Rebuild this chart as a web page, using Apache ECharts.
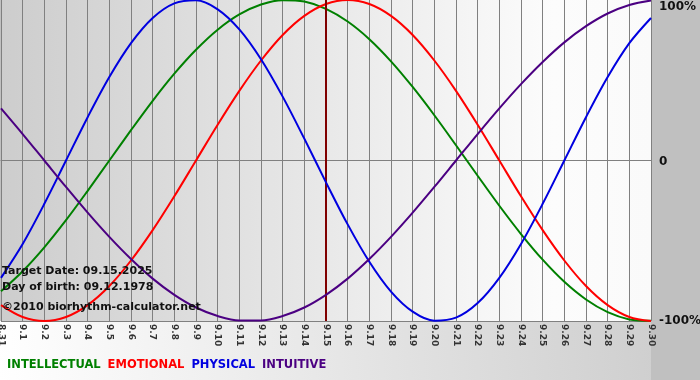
<!DOCTYPE html>
<html>
<head>
<meta charset="utf-8">
<script src="https://cdn.jsdelivr.net/npm/echarts@6/dist/echarts.min.js"></script>
<style>html,body{margin:0;padding:0;background:#c0c0c0;}#c{width:700px;height:380px;}</style>
</head>
<body>
<div id="c"></div>
<script>
const categories = ['8.31','9.1','9.2','9.3','9.4','9.5','9.6','9.7','9.8','9.9','9.10','9.11','9.12','9.13','9.14','9.15','9.16','9.17','9.18','9.19','9.20','9.21','9.22','9.23','9.24','9.25','9.26','9.27','9.28','9.29','9.30'];
const intellectual = [-81.5,-69.0,-54.1,-37.2,-18.9,0,18.9,37.2,54.1,69.0,81.5,91.0,97.2,99.9,99.0,94.5,86.6,75.6,61.8,45.8,28.2,9.5,-9.5,-28.2,-45.8,-61.8,-75.6,-86.6,-94.5,-99.0,-99.9];
const emotional = [-90.1,-97.5,-100,-97.5,-90.1,-78.2,-62.3,-43.4,-22.3,0,22.3,43.4,62.3,78.2,90.1,97.5,100,97.5,90.1,78.2,62.3,43.4,22.3,0,-22.3,-43.4,-62.3,-78.2,-90.1,-97.5,-100];
const physical = [-73.1,-52.0,-27.0,0,27.0,52.0,73.1,88.8,97.9,99.8,94.2,81.7,63.1,39.8,13.6,-13.6,-39.8,-63.1,-81.7,-94.2,-99.8,-97.9,-88.8,-73.1,-52.0,-27.0,0,27.0,52.0,73.1,88.8];
const intuitive = [32.5,16.5,0,-16.5,-32.5,-47.6,-61.4,-73.6,-83.7,-91.6,-96.9,-99.7,-99.7,-96.9,-91.6,-83.7,-73.6,-61.4,-47.6,-32.5,-16.5,0,16.5,32.5,47.6,61.4,73.6,83.7,91.6,96.9,99.7];
const yTicks = [-100, 0, 100];
const targetDay = '9.15';
const infoLines = ['Target Date: 09.15.2025', 'Day of birth: 09.12.1978', '©2010 biorhythm-calculator.net'];
const seriesNames = ['INTELLECTUAL','EMOTIONAL','PHYSICAL','INTUITIVE'];
const seriesColors = ['#008000','#ff0000','#0000e0','#4b0082'];

const chart = echarts.init(document.getElementById('c'), null, {renderer:'canvas'});
const font = 'DejaVu Sans, Verdana, sans-serif';
const datas = [intellectual, emotional, physical, intuitive];

const series = seriesNames.map((n, i) => ({
  name: n, type: 'line', data: datas[i], smooth: 0.33, symbol: 'none',
  lineStyle: {color: seriesColors[i], width: 2}, itemStyle:{color: seriesColors[i]},
  z: 3 + i,
  markLine: i === 0 ? {
    symbol: 'none', silent: true, label: {show: false},
    lineStyle: {color: '#800000', width: 2, type: 'solid'},
    data: [{xAxis: targetDay}]
  } : undefined
}));

chart.setOption({
  backgroundColor: '#c0c0c0',
  animation: false,
  graphic: [
    {type:'rect', z: -10, shape:{x:0, y:321, width:651, height:59},
     style:{fill: new echarts.graphic.LinearGradient(0,1,1,0,[{offset:0,color:'#ffffff'},{offset:1,color:'#cfcfcf'}])}},
    ...infoLines.map((t, i) => ({type:'text', left: 2, top: [266, 282, 302][i], z: 20,
      style:{text: t, font: 'bold 11px ' + font, fill: '#111'}}))
  ],
  legend: {
    left: -3, top: 354, itemWidth: 0, itemHeight: 0, itemGap: 2, icon: 'none',
    selectedMode: false,
    data: seriesNames.map((n, i) => ({name: n, textStyle: {color: seriesColors[i]}})),
    textStyle: {fontFamily: font, fontWeight: 'bold', fontSize: 11.5}
  },
  grid: {left: 1, right: 49, top: 0, bottom: 59, show: true, borderWidth: 0,
    outerBoundsMode: 'none', containLabel: false,
    backgroundColor: new echarts.graphic.LinearGradient(0,0,1,0,[{offset:0,color:'#cdcdcd'},{offset:0.85,color:'#fcfcfc'},{offset:1,color:'#fafafa'}])},
  xAxis: {
    type: 'category', data: categories, boundaryGap: false,
    axisLine: {show: true, lineStyle:{color:'#808080', width:1}},
    axisTick: {show: false},
    splitLine: {show: true, interval: 0, lineStyle:{color:'#808080', width:1}},
    axisLabel: {interval: 0, rotate: -90, fontFamily: font, fontSize: 9, fontWeight:'bold', color:'#333', margin: 3}
  },
  yAxis: {
    type: 'value', position: 'right', min: -100, max: 100, interval: 100,
    axisLine: {show: false}, axisTick: {show: false},
    splitLine: {show: true, lineStyle:{color:['#808080','#808080','rgba(0,0,0,0)'], width:1}},
    axisLabel: {
      margin: 8, fontFamily: font, fontWeight: 'bold', fontSize: 12, color: '#111',
      formatter: v => v === 100 ? '{t|100%}' : (v === 0 ? '{m|0}' : '{b|-100%}'),
      rich: {
        t: {fontFamily: font, fontWeight:'bold', fontSize: 12, color:'#111', padding:[14,0,0,0]},
        m: {fontFamily: font, fontWeight:'bold', fontSize: 12, color:'#111', padding:[2,0,0,0]},
        b: {fontFamily: font, fontWeight:'bold', fontSize: 12, color:'#111'}
      }
    }
  },
  series: series
});
</script>
</body>
</html>
